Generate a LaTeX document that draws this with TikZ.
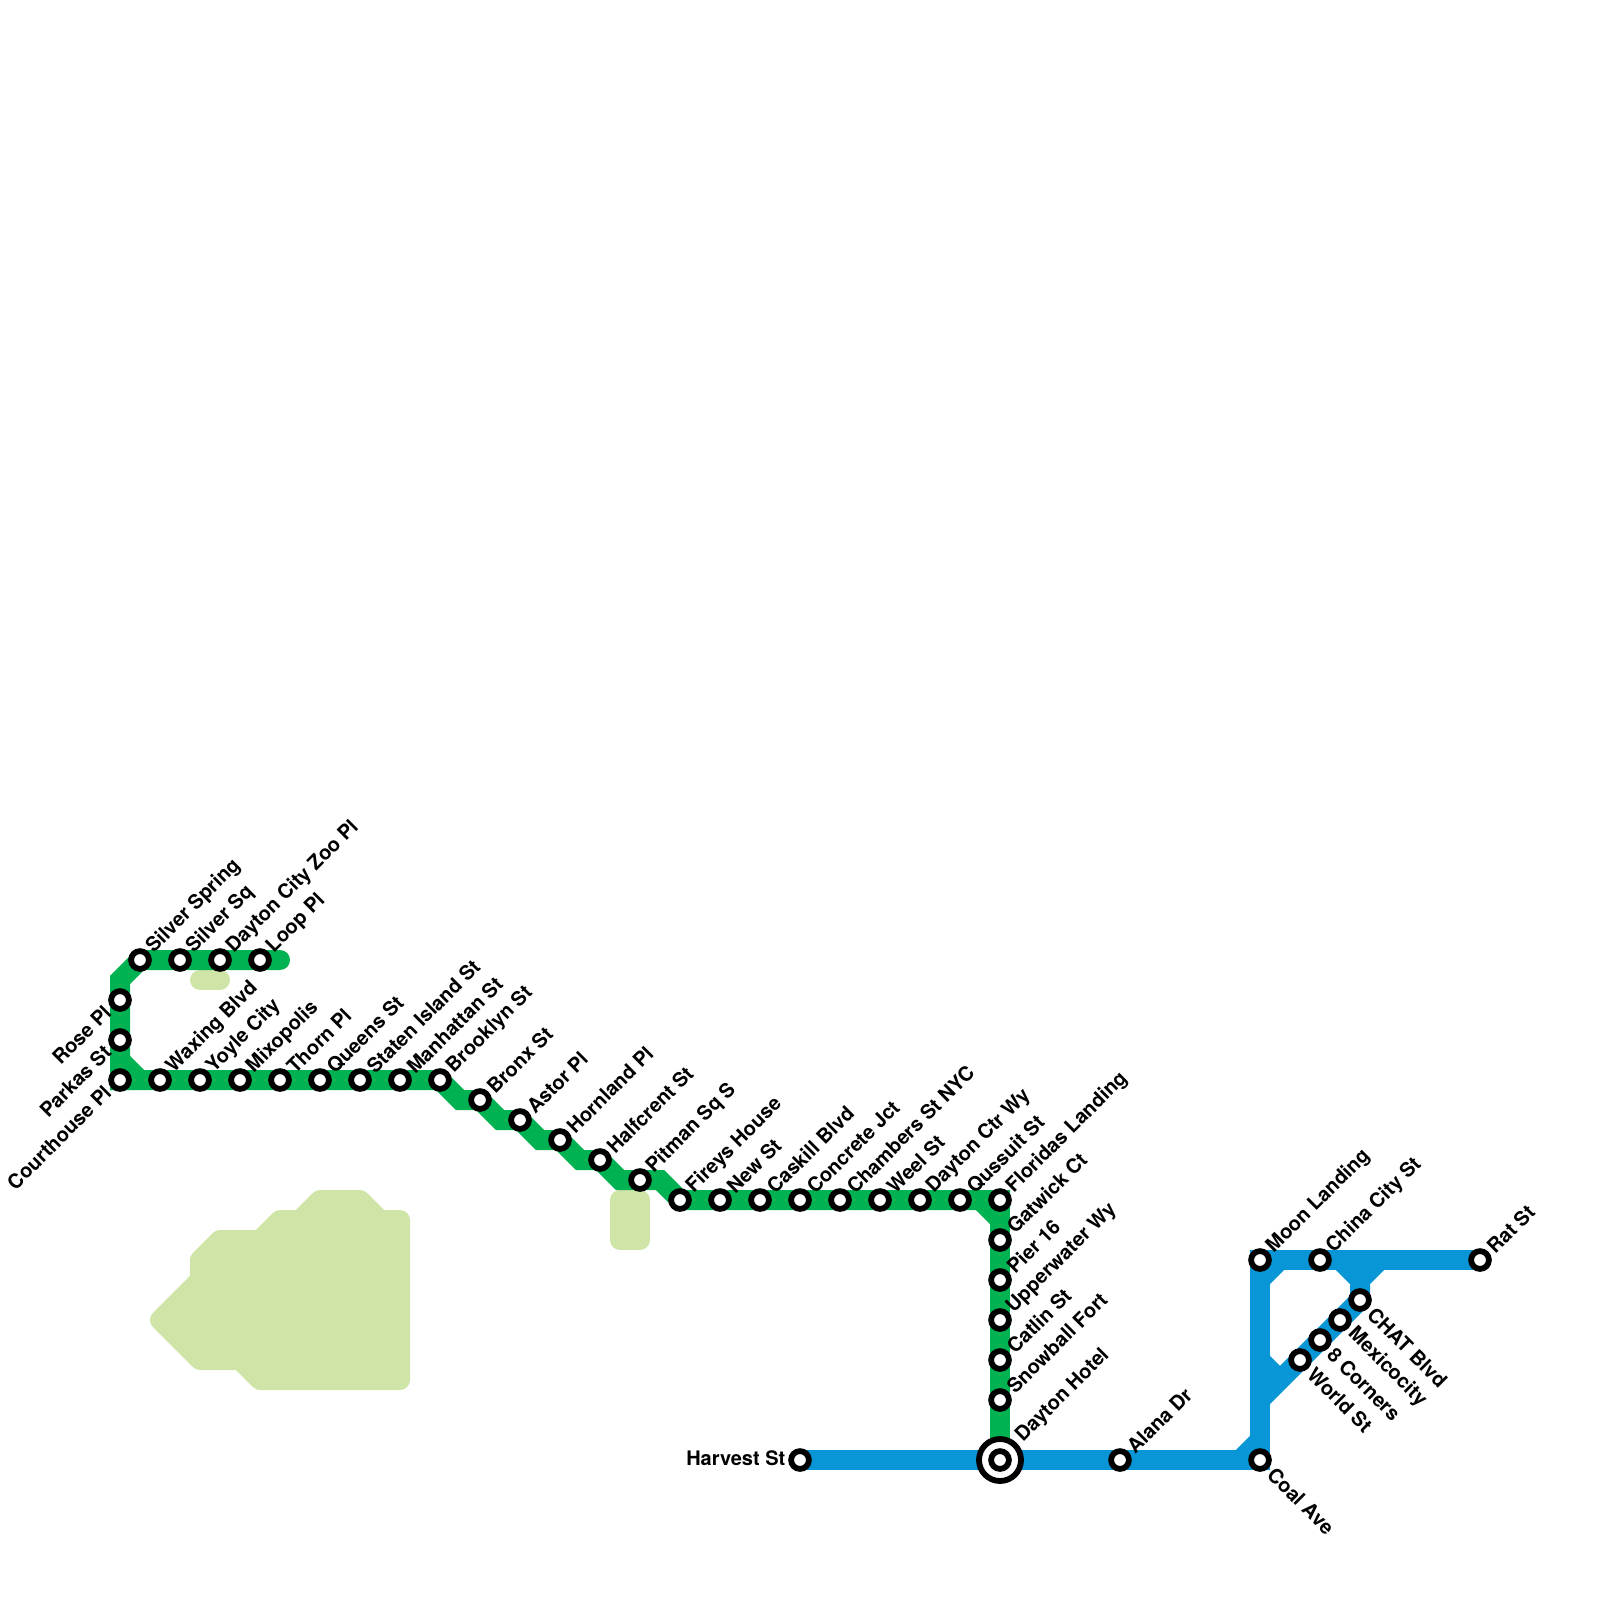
\documentclass[tikz,border=0pt]{standalone}
\usepackage{fontspec}
\setmainfont{TeX Gyre Heros}
\definecolor{grn}{HTML}{00B251}
\definecolor{blu}{HTML}{0896D7}
\definecolor{prk}{HTML}{CFE5A7}
\tikzset{
 x=1pt,y=-1pt,
 park/.style={draw=prk,fill=prk,line width=20pt,line join=round,line cap=round},
 gline/.style={draw=grn,line width=20pt,line join=miter,line cap=butt},
 bline/.style={draw=blu,line width=20pt,line join=miter,line cap=butt},
 ring/.style={circle,draw=black,fill=white,line width=5.8pt,minimum size=17.8pt,inner sep=0pt,outer sep=0pt},
 bigring/.style={circle,draw=black,fill=white,line width=5.8pt,minimum size=42pt,inner sep=0pt,outer sep=0pt},
 lab/.style={font=\fontsize{20}{22}\selectfont\bfseries,inner sep=0pt,text=black},
 ne/.style={lab,rotate=45,anchor=west,xshift=14.3pt,yshift=0pt},
 se/.style={lab,rotate=-45,anchor=west,xshift=15.5pt,yshift=0pt},
 sw/.style={lab,rotate=45,anchor=east,xshift=-15pt,yshift=2.5pt},
 w/.style={lab,anchor=east,xshift=-14.5pt,yshift=2pt},
}
\newcommand{\pt}[3]{\coordinate (#1) at (#2,#3);}
\newcommand{\st}[3]{\node[ring] (#1r) at (#1) {}; \node[#2] (#1l) at (#1) {#3};}
\begin{document}
\begin{tikzpicture}
\useasboundingbox (0,0) rectangle (1600,1600);
% stations
\pt{rose}{120}{1000}\pt{parkas}{120}{1040}\pt{court}{120}{1080}
\pt{sspring}{140}{960}\pt{ssq}{180}{960}\pt{dczoo}{220}{960}\pt{loop}{260}{960}\pt{gend}{280}{960}
\pt{waxing}{160}{1080}\pt{yoyle}{200}{1080}\pt{mixo}{240}{1080}\pt{thorn}{280}{1080}\pt{queens}{320}{1080}\pt{staten}{360}{1080}\pt{manh}{400}{1080}\pt{brook}{440}{1080}
\pt{bronx}{480}{1100}\pt{astor}{520}{1120}\pt{horn}{560}{1140}\pt{half}{600}{1160}\pt{pitman}{640}{1180}
\pt{fireys}{680}{1200}\pt{newst}{720}{1200}\pt{caskill}{760}{1200}\pt{concrete}{800}{1200}\pt{chambers}{840}{1200}\pt{weel}{880}{1200}\pt{dctr}{920}{1200}\pt{qussuit}{960}{1200}\pt{floridas}{1000}{1200}
\pt{gatwick}{1000}{1240}\pt{pier}{1000}{1280}\pt{upper}{1000}{1320}\pt{catlin}{1000}{1360}\pt{snow}{1000}{1400}\pt{hotel}{1000}{1460}
\pt{harvest}{800}{1460}\pt{alana}{1120}{1460}\pt{coal}{1260}{1460}\pt{moon}{1260}{1260}\pt{china}{1320}{1260}\pt{rat}{1480}{1260}
\pt{chat}{1360}{1300}\pt{mexico}{1340}{1320}\pt{corners}{1320}{1340}\pt{world}{1300}{1360}
% bends
\pt{g1}{120}{980}\pt{g2}{120}{1060}\pt{g3}{140}{1080}\pt{g4}{120}{1090}\pt{g5}{110}{1080}
\pt{a1}{460}{1100}\pt{a2}{500}{1120}\pt{a3}{540}{1140}\pt{a4}{580}{1160}\pt{a5}{620}{1180}\pt{a6}{660}{1180}
\pt{b1}{980}{1200}\pt{b2}{1000}{1220}\pt{b3}{1010}{1200}\pt{b4}{1000}{1190}
\pt{c1}{1240}{1460}\pt{c2}{1260}{1440}\pt{c3}{1260}{1470}\pt{c4}{1250}{1260}\pt{c5}{1260}{1280}\pt{c6}{1280}{1260}
\pt{c7}{1340}{1260}\pt{c8}{1360}{1280}\pt{c9}{1380}{1260}\pt{c10}{1260}{1400}\pt{c11}{1260}{1360}\pt{c12}{1280}{1380}\pt{c13}{1270}{1460}
% parks
\path[park] (160,1320)--(200,1360)--(240,1360)--(260,1380)--(400,1380)--(400,1220)--(380,1220)--(360,1200)--(320,1200)--(300,1220)--(280,1220)--(260,1240)--(220,1240)--(200,1260)--(200,1280)--cycle;
\path[park] (200,980)--(220,980);
\path[park] (620,1200) rectangle (640,1240);
% green
\draw[gline] (gend)--(sspring)--(g1)--(g4);
\draw[gline,line cap=round] (gend)--(loop);
\draw[gline] (g2)--(g3);
\draw[gline] (g5)--(brook)--(a1)--(bronx)--(a2)--(astor)--(a3)--(horn)--(a4)--(half)--(a5)--(a6)--(fireys)--(b3);
\draw[gline] (b4)--(hotel);
\draw[gline] (b1)--(b2);
% blue
\draw[bline] (harvest)--(c13);
\draw[bline] (c1)--(c2);
\draw[bline] (c3)--(moon);
\draw[bline] (c4)--(rat);
\draw[bline] (c5)--(c6);
\draw[bline] (c7)--(c8)--(chat);
\draw[bline] (c8)--(c9);
\draw[bline] (c10)--(chat);
\draw[bline] (c11)--(c12);
% stations
\st{sspring}{ne}{Silver Spring}\st{ssq}{ne}{Silver Sq}\st{dczoo}{ne}{Dayton City Zoo Pl}\st{loop}{ne}{Loop Pl}
\st{rose}{sw}{Rose Pl}\st{parkas}{sw}{Parkas St}\st{court}{sw}{Courthouse Pl}
\st{waxing}{ne}{Waxing Blvd}\st{yoyle}{ne}{Yoyle City}\st{mixo}{ne}{Mixopolis}\st{thorn}{ne}{Thorn Pl}\st{queens}{ne}{Queens St}\st{staten}{ne}{Staten Island St}\st{manh}{ne}{Manhattan St}\st{brook}{ne}{Brooklyn St}
\st{bronx}{ne}{Bronx St}\st{astor}{ne}{Astor Pl}\st{horn}{ne}{Hornland Pl}\st{half}{ne}{Halfcrent St}\st{pitman}{ne}{Pitman Sq S}
\st{fireys}{ne}{Fireys House}\st{newst}{ne}{New St}\st{caskill}{ne}{Caskill Blvd}\st{concrete}{ne}{Concrete Jct}\st{chambers}{ne}{Chambers St NYC}\st{weel}{ne}{Weel St}\st{dctr}{ne}{Dayton Ctr Wy}\st{qussuit}{ne}{Qussuit St}\st{floridas}{ne}{Floridas Landing}
\st{gatwick}{ne}{Gatwick Ct}\st{pier}{ne}{Pier 16}\st{upper}{ne}{Upperwater Wy}\st{catlin}{ne}{Catlin St}\st{snow}{ne}{Snowball Fort}
\node[bigring] (hotelo) at (hotel) {};
\node[ring] (hotelr) at (hotel) {};
\node[ne,xshift=14pt,yshift=1pt] (hotell) at (hotel) {Dayton Hotel};
\st{harvest}{w}{Harvest St}\st{alana}{ne}{Alana Dr}\st{coal}{se}{Coal Ave}\st{moon}{ne}{Moon Landing}\st{china}{ne}{China City St}\st{rat}{ne}{Rat St}
\st{chat}{se}{CHAT Blvd}\st{mexico}{se}{Mexicocity}\st{corners}{se}{8 Corners}\st{world}{se}{World St}
\end{tikzpicture}
\end{document}
